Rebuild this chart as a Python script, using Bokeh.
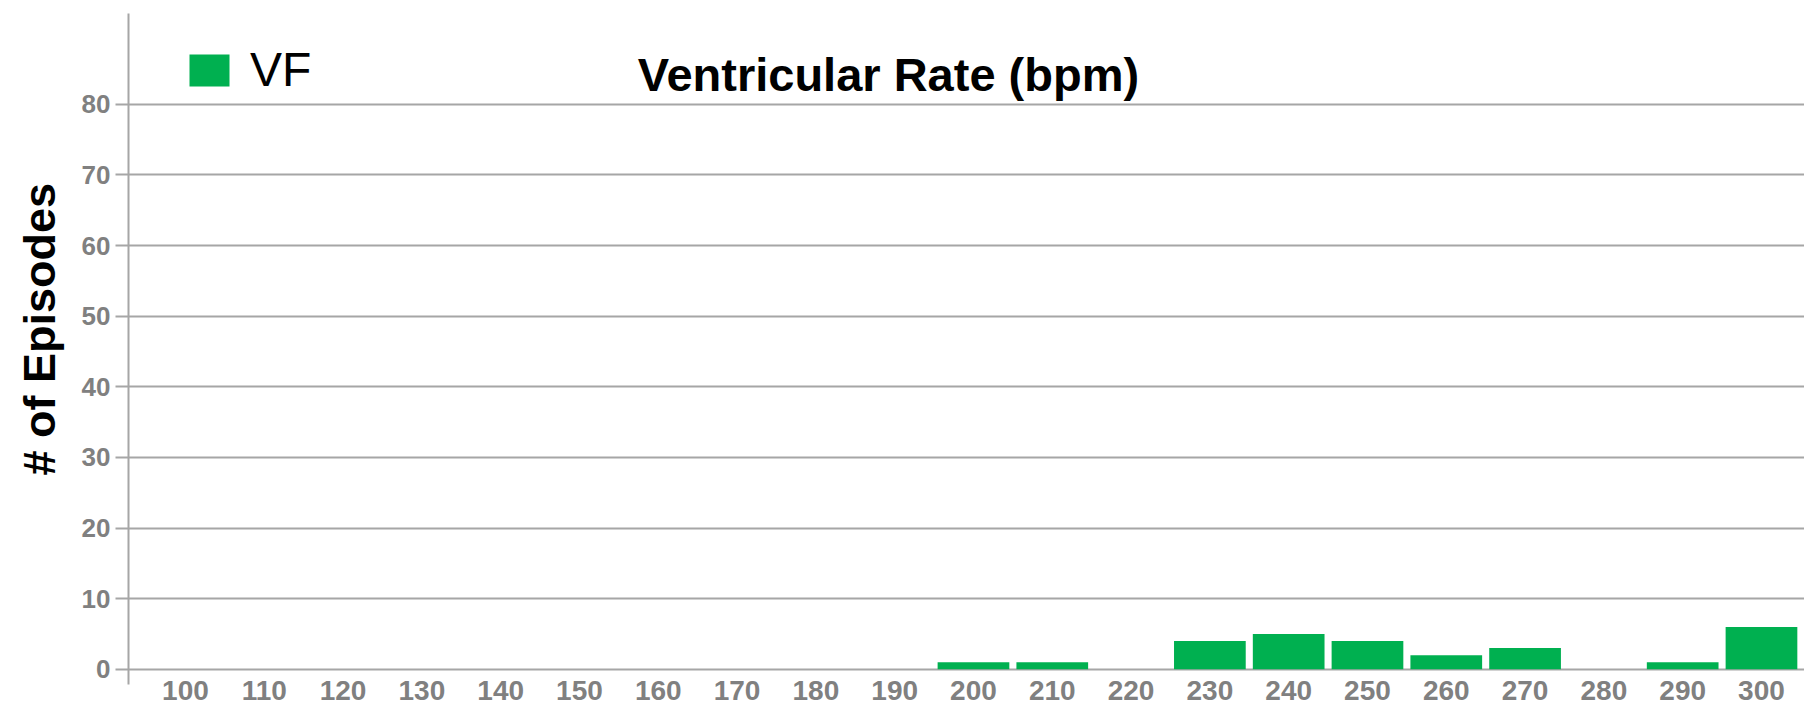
from bokeh.plotting import figure
from bokeh.models import (Range1d, FixedTicker, Legend, LegendItem, Label,
                          Title, ColumnDataSource)
from bokeh.embed import file_html
from bokeh.resources import INLINE

# ---- data ----
rates = [100, 110, 120, 130, 140, 150, 160, 170, 180, 190, 200,
         210, 220, 230, 240, 250, 260, 270, 280, 290, 300]
episodes = [0, 0, 0, 0, 0, 0, 0, 0, 0, 0, 1,
            1, 0, 4, 5, 4, 2, 3, 0, 1, 6]
y_ticks = [0, 10, 20, 30, 40, 50, 60, 70, 80]
series_name = "VF"
title_text = "Ventricular Rate (bpm)"
y_title = "# of Episodes"

GREEN = "#00b050"
GRID = "#a6a6a6"
TICK_GREY = "#808080"
FONT = "Liberation Sans"

src = ColumnDataSource(data=dict(x=rates, top=episodes))

p = figure(width=1804, height=709, output_backend="svg", toolbar_location=None,
           x_range=Range1d(92.77, 305.46), y_range=Range1d(-2.15, 92.85),
           min_border_left=128, min_border_right=0, min_border_top=13,
           min_border_bottom=25)
p.outline_line_color = None
p.background_fill_color = "white"
p.border_fill_color = "white"

r = p.vbar(x="x", top="top", bottom=0, width=9.1, source=src,
           fill_color=GREEN, line_color=None)

# x axis
p.xaxis.ticker = FixedTicker(ticks=rates)
p.xaxis.axis_line_color = None
p.xaxis.major_tick_line_color = None
p.xaxis.minor_tick_line_color = None
p.xaxis.major_tick_out = 0
p.xaxis.major_tick_in = 0
p.xaxis.major_label_standoff = -4
p.xaxis.major_label_text_font = FONT
p.xaxis.major_label_text_font_size = "28px"
p.xaxis.major_label_text_font_style = "bold"
p.xaxis.major_label_text_color = TICK_GREY

# y axis
p.yaxis.ticker = FixedTicker(ticks=y_ticks)
p.yaxis.axis_line_color = GRID
p.yaxis.axis_line_width = 2
p.yaxis.major_tick_line_color = GRID
p.yaxis.major_tick_line_width = 2
p.yaxis.major_tick_out = 13
p.yaxis.major_tick_in = 0
p.yaxis.minor_tick_line_color = None
p.yaxis.major_label_standoff = 5
p.yaxis.major_label_text_font = FONT
p.yaxis.major_label_text_font_size = "26px"
p.yaxis.major_label_text_font_style = "bold"
p.yaxis.major_label_text_color = TICK_GREY

# y axis title (as a side title so it can be offset along the axis)
p.add_layout(Title(text=y_title, align="left", vertical_align="top",
                   offset=209, standoff=24,
                   text_font=FONT, text_font_size="45px",
                   text_font_style="bold", text_color="black"), "left")

p.xgrid.grid_line_color = None
p.ygrid.grid_line_color = GRID
p.ygrid.grid_line_width = 2

# chart title inside plot area
p.add_layout(Label(x=189.2, y=84.2, text=title_text, text_align="center",
                   text_baseline="alphabetic", text_font=FONT,
                   text_font_size="47px", text_font_style="bold",
                   text_color="black"))

legend = Legend(items=[LegendItem(label=series_name, renderers=[r])],
                location=(56, 587), glyph_width=50, glyph_height=40,
                label_standoff=16, padding=0, margin=0, spacing=0,
                border_line_color=None, background_fill_alpha=0,
                label_text_font=FONT, label_text_font_size="48px",
                label_text_color="black")
p.add_layout(legend)

open("out.html", "w").write(file_html(p, INLINE))
